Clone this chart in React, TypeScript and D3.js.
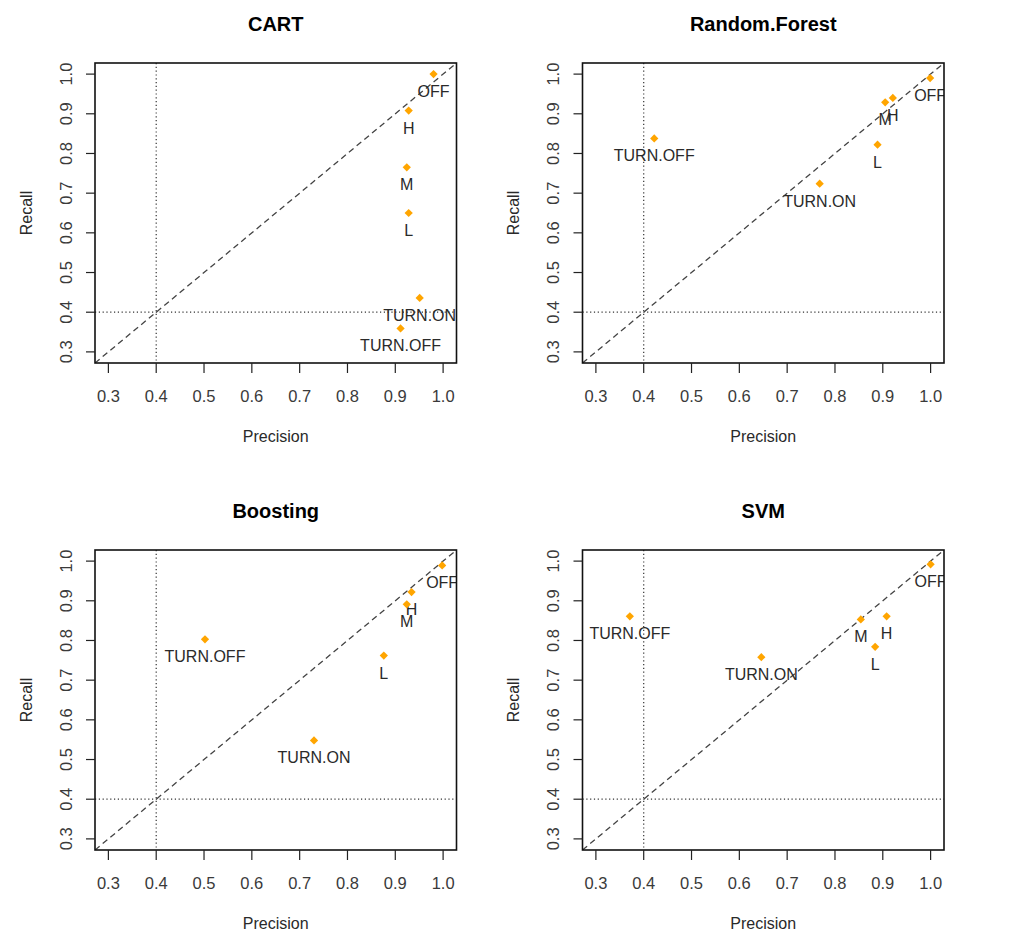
import React from "react";
import * as d3 from "d3";

const models = ["CART", "Random.Forest", "Boosting", "SVM"];
const classes = ["OFF", "H", "M", "L", "TURN.ON", "TURN.OFF"];

const cartPrecision = [0.98, 0.928, 0.924, 0.928, 0.951, 0.911];
const cartRecall = [1.0, 0.908, 0.765, 0.65, 0.436, 0.359];
const rfPrecision = [0.999, 0.921, 0.905, 0.889, 0.768, 0.422];
const rfRecall = [0.99, 0.94, 0.929, 0.822, 0.724, 0.838];
const boostPrecision = [0.998, 0.934, 0.924, 0.876, 0.73, 0.502];
const boostRecall = [0.989, 0.922, 0.891, 0.762, 0.548, 0.803];
const svmPrecision = [1.0, 0.908, 0.854, 0.884, 0.646, 0.371];
const svmRecall = [0.992, 0.861, 0.853, 0.784, 0.758, 0.861];

const precisionSeries = [cartPrecision, rfPrecision, boostPrecision, svmPrecision];
const recallSeries = [cartRecall, rfRecall, boostRecall, svmRecall];

const tickValues = [0.3, 0.4, 0.5, 0.6, 0.7, 0.8, 0.9, 1.0];
const axisDomain = [0.272, 1.028];
const threshold = 0.4;

const W = 1022;
const H = 947;
const PW = 361.5;
const PH = 300;
const lefts = [95, 582.5];
const tops = [63, 550];
const FONT = "'Liberation Sans', Arial, Helvetica, sans-serif";
const fmt = d3.format(".1f");

function Panel({ idx }: { idx: number }) {
  const x0 = lefts[idx % 2];
  const y0 = tops[Math.floor(idx / 2)];
  const x = d3.scaleLinear().domain(axisDomain).range([x0, x0 + PW]);
  const y = d3.scaleLinear().domain(axisDomain).range([y0 + PH, y0]);
  const px = precisionSeries[idx];
  const ry = recallSeries[idx];
  const clipId = `clip-${idx}`;
  const diamond = d3.symbol().type(d3.symbolSquare).size(34)();
  const diag = d3.line<number>().x((d) => x(d)).y((d) => y(d));
  const cx = x0 + PW / 2;
  const cy = y0 + PH / 2;
  return (
    <g>
      <defs>
        <clipPath id={clipId}>
          <rect x={x0} y={y0} width={PW} height={PH} />
        </clipPath>
      </defs>
      <text x={cx} y={y0 - 32} textAnchor="middle" fontFamily={FONT} fontWeight="bold" fontSize={20} fill="#000">
        {models[idx]}
      </text>
      <g clipPath={`url(#${clipId})`}>
        <line x1={x(threshold)} x2={x(threshold)} y1={y0} y2={y0 + PH} stroke="#333" strokeWidth={1.2} strokeDasharray="1.2,2.6" />
        <line x1={x0} x2={x0 + PW} y1={y(threshold)} y2={y(threshold)} stroke="#333" strokeWidth={1.2} strokeDasharray="1.2,2.6" />
        <path d={diag(axisDomain) || ""} stroke="#444" strokeWidth={1.3} strokeDasharray="6,4" fill="none" />
        {classes.map((c, i) => (
          <g key={c}>
            <path d={diamond || ""} transform={`translate(${x(px[i])},${y(ry[i])}) rotate(45)`} fill="#FFA500" />
            <text x={x(px[i])} y={y(ry[i]) + 23} textAnchor="middle" fontFamily={FONT} fontSize={16} fill="#2a2a2a">
              {c}
            </text>
          </g>
        ))}
      </g>
      <rect x={x0} y={y0} width={PW} height={PH} fill="none" stroke="#111" strokeWidth={1.6} />
      {tickValues.map((t) => (
        <g key={"x" + t}>
          <line x1={x(t)} x2={x(t)} y1={y0 + PH} y2={y0 + PH + 10} stroke="#222" strokeWidth={1.2} />
          <text x={x(t)} y={y0 + PH + 38.5} textAnchor="middle" fontFamily={FONT} fontSize={16.5} fill="#3a3a3a">
            {fmt(t)}
          </text>
        </g>
      ))}
      {tickValues.map((t) => (
        <g key={"y" + t}>
          <line x1={x0 - 9} x2={x0} y1={y(t)} y2={y(t)} stroke="#222" strokeWidth={1.2} />
          <text transform={`translate(${x0 - 23.5},${y(t)}) rotate(-90)`} textAnchor="middle" fontFamily={FONT} fontSize={16.5} fill="#3a3a3a">
            {fmt(t)}
          </text>
        </g>
      ))}
      <text x={cx} y={y0 + PH + 79} textAnchor="middle" fontFamily={FONT} fontSize={16} fill="#2a2a2a">
        Precision
      </text>
      <text transform={`translate(${x0 - 63.5},${cy}) rotate(-90)`} textAnchor="middle" fontFamily={FONT} fontSize={16} fill="#2a2a2a">
        Recall
      </text>
    </g>
  );
}

export default function App() {
  return (
    <svg width={W} height={H} style={{ position: "absolute", left: 0, top: 0, background: "#fff" }}>
      <rect x={0} y={0} width={W} height={H} fill="#fff" />
      {models.map((m, i) => (
        <Panel key={m} idx={i} />
      ))}
    </svg>
  );
}
